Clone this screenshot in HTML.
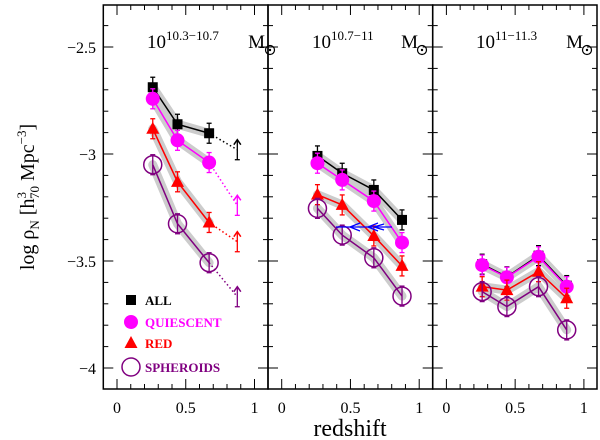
<!DOCTYPE html>
<html><head><meta charset="utf-8"><style>
body{margin:0;background:#fff}
svg{display:block;font-family:"Liberation Serif",serif}
</style></head><body>
<svg id="c" width="600" height="440" viewBox="0 0 600 440"></svg>
<script>
const redshifts=[0.26,0.44,0.67,0.875];
const panelTitles=[["10.3\u221210.7"],["10.7\u221211"],["11\u221211.3"]];
const allVals=[[-2.688,-2.861,-2.903,-2.98],[-3.009,-3.09,-3.168,-3.308],[-3.515,-3.574,-3.475,-3.615]];
const quiVals=[[-2.742,-2.936,-3.04,-3.24],[-3.043,-3.121,-3.22,-3.414],[-3.519,-3.576,-3.48,-3.62]];
const redVals=[[-2.882,-3.13,-3.32,-3.41],[-3.19,-3.238,-3.383,-3.523],[-3.62,-3.636,-3.55,-3.674]];
const sphVals=[[-3.05,-3.326,-3.508,-3.667],[-3.254,-3.379,-3.485,-3.664],[-3.643,-3.713,-3.62,-3.822]];
const yTicks=[-2.5,-3,-3.5,-4];
const xTicks=[0,0.5,1];
const NS="http://www.w3.org/2000/svg";
const svgRoot=document.getElementById('c');
function el(t,a,p){const e=document.createElementNS(NS,t);for(const k in a)e.setAttribute(k,a[k]);(p||svgRoot).appendChild(e);return e;}
const panelEdges=[103.3,268,432.7,597];
const yTop=5,yBot=389;
const yS=v=>47+(-2.5-v)*214;
function xS(p,z){return panelEdges[p]+13.7+z*137.5;}
const seriesDefs=[
 {vals:allVals,col:'#000',mk:'sq',name:'all'},
 {vals:quiVals,col:'#ff00ff',mk:'circ',name:'quiescent'},
 {vals:redVals,col:'#ff0000',mk:'tri',name:'red'},
 {vals:sphVals,col:'#800080',mk:'ocirc',name:'spheroids'}];
function marker(m,x,y,c,g){
 if(m==='sq')return el('rect',{x:x-5,y:y-5,width:10,height:10,fill:c},g);
 if(m==='circ')return el('circle',{cx:x,cy:y,r:7,fill:c},g);
 if(m==='tri')return el('polygon',{points:`${x},${y-7} ${x-6.5},${y+5} ${x+6.5},${y+5}`,fill:c},g);
 return el('circle',{cx:x,cy:y,r:9,fill:'none',stroke:c,'stroke-width':1.5},g);
}
const titleX=[147,312,476];
const mEnd=[265,418,583];
const sunX=[270,422,587];
for(let p=0;p<3;p++){
 const g=el('g',{});
 
 
 seriesDefs.forEach(s=>{
  const n=p===0?3:4;
  let pts=[];
  for(let i=0;i<n;i++)pts.push(xS(p,redshifts[i])+','+yS(s.vals[p][i]));
  el('polyline',{points:pts.join(' '),fill:'none',stroke:'#cccccc','stroke-width':9,'stroke-linejoin':'round','stroke-linecap':'round'},g);
 });
 seriesDefs.forEach(s=>{
  const sg=el('g',{},g);
  
  
  const n=p===0?3:4;
  let pts=[];
  for(let i=0;i<n;i++)pts.push(xS(p,redshifts[i])+','+yS(s.vals[p][i]));
  el('polyline',{points:pts.join(' '),fill:'none',stroke:s.col,'stroke-width':1.5},sg);
  if(p===0){
   const x1=xS(p,redshifts[2]),y1=yS(s.vals[p][2]),x2=xS(p,redshifts[3]),y2=yS(s.vals[p][3]);
   el('line',{x1:x1,y1:y1,x2:x2,y2:y2,stroke:s.col,'stroke-width':1.5,'stroke-dasharray':'1.5,2.5'},sg);
   el('line',{x1:x2,y1:y2+10,x2:x2,y2:y2-10,stroke:s.col,'stroke-width':1.3},sg);
   el('line',{x1:x2-2.5,y1:y2+10,x2:x2+2.5,y2:y2+10,stroke:s.col,'stroke-width':1.3},sg);
   el('polyline',{points:`${x2-3.5},${y2-5} ${x2},${y2-10} ${x2+3.5},${y2-5}`,fill:'none',stroke:s.col,'stroke-width':1.5},sg);
  }
  for(let i=0;i<n;i++){
   const x=xS(p,redshifts[i]),y=yS(s.vals[p][i]);
   el('line',{x1:x,y1:y-10,x2:x,y2:y+10,stroke:s.col,'stroke-width':1.3},sg);
   el('line',{x1:x-2.5,y1:y-10,x2:x+2.5,y2:y-10,stroke:s.col,'stroke-width':1.3},sg);
   el('line',{x1:x-2.5,y1:y+10,x2:x+2.5,y2:y+10,stroke:s.col,'stroke-width':1.3},sg);
   const m=marker(s.mk,x,y,s.col,sg);
   
   
  }
 });
 el('rect',{x:panelEdges[p],y:yTop,width:panelEdges[p+1]-panelEdges[p],height:yBot-yTop,fill:'none',stroke:'#000','stroke-width':1.5},g);
 for(let k=-1;k<=11;k++){
  const z=k/10,x=xS(p,z);if(x<=panelEdges[p]||x>=panelEdges[p+1])continue;
  const L=(k%5===0)?10:5;
  el('line',{x1:x,y1:yBot,x2:x,y2:yBot-L,stroke:'#000'},g);
  el('line',{x1:x,y1:yTop,x2:x,y2:yTop+L,stroke:'#000'},g);
 }
 for(let k=-41;k<=-23;k++){
  const v=k/10,y=yS(v);if(y<=yTop||y>=yBot)continue;
  const L=(k%5===0)?10:5;
  el('line',{x1:panelEdges[p],y1:y,x2:panelEdges[p]+L,y2:y,stroke:'#000'},g);
  el('line',{x1:panelEdges[p+1],y1:y,x2:panelEdges[p+1]-L,y2:y,stroke:'#000'},g);
 }
 xTicks.forEach(t=>{
  const tx=el('text',{x:xS(p,t),y:413,'font-size':16,'text-anchor':'middle'},g);tx.textContent=String(t);
  
  
 });
 const tt=el('text',{x:titleX[p],y:48,'font-size':19},g);
 
 
 tt.innerHTML='10<tspan dy="-8" font-size="13">'+panelTitles[p][0]+'</tspan>';
 const mt=el('text',{x:mEnd[p],y:48,'font-size':19,'text-anchor':'end'},g);
 mt.textContent='M';
 
 
 el('circle',{cx:sunX[p],cy:50,r:4.5,fill:'none',stroke:'#000','stroke-width':1.2},g);
 el('circle',{cx:sunX[p],cy:50,r:1.2,fill:'#000'},g);
}
const bg=el('g',{stroke:'#0000ff','stroke-width':1.3,fill:'none'});


el('line',{x1:336,y1:227,x2:392,y2:227},bg);
el('polyline',{points:'360,223 350,227 360,231'},bg);
el('polyline',{points:'378,223 368,227 378,231'},bg);
el('polyline',{points:'384,224 374,227 384,230'},bg);
yTicks.forEach(t=>{
 const tx=el('text',{x:96,y:yS(t)+6,'font-size':16,'text-anchor':'end'});
 tx.textContent=String(t).replace('-','\u2212');
 
 
});
const xt=el('text',{x:350,y:436,'font-size':24,'text-anchor':'middle'});xt.textContent='redshift';


const yt=el('text',{transform:'translate(34,197) rotate(-90)','font-size':20,'text-anchor':'middle'});


yt.innerHTML='log \u03C1<tspan dy="5" font-size="13">N</tspan><tspan dy="-5"> [h</tspan><tspan dy="-8" font-size="13">3</tspan><tspan dy="13" dx="-7" font-size="13">70</tspan><tspan dy="-5"> Mpc</tspan><tspan dy="-8" font-size="13">\u22123</tspan><tspan dy="8">]</tspan>';
const lg=el('g',{});


const legY=[300,322,343,367];
seriesDefs.forEach((s,i)=>{
 marker(s.mk,131,legY[i],s.col,lg);
 const t=el('text',{x:145,y:legY[i]+5,'font-size':13,'font-weight':'bold',fill:s.col},lg);
 t.textContent=['ALL','QUIESCENT','RED','SPHEROIDS'][i];
 
 
});
</script>
</body></html>
